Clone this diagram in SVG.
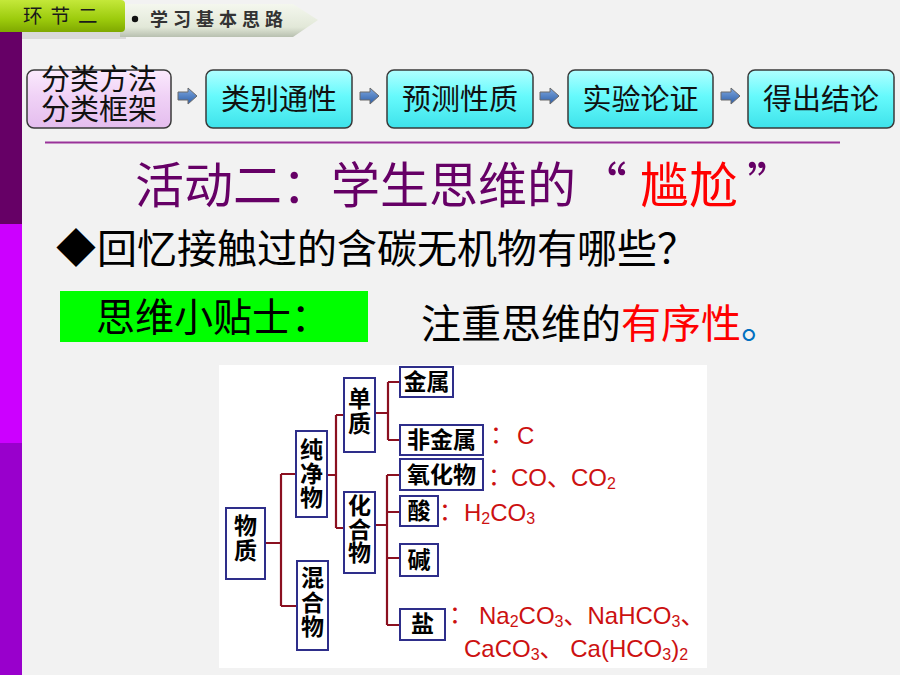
<svg xmlns="http://www.w3.org/2000/svg" width="900" height="675" viewBox="0 0 900 675">
<defs>
<linearGradient id="gCyan" x1="0" y1="0" x2="0" y2="1">
<stop offset="0" stop-color="#B0FFFF"/><stop offset="0.45" stop-color="#66FAFC"/><stop offset="1" stop-color="#3EE2EA"/>
</linearGradient>
<linearGradient id="gPink" x1="0" y1="0" x2="0" y2="1">
<stop offset="0" stop-color="#FBEAFD"/><stop offset="0.45" stop-color="#F0D2F6"/><stop offset="1" stop-color="#E4BDEE"/>
</linearGradient>
<linearGradient id="gTab" x1="0" y1="0" x2="0" y2="1">
<stop offset="0" stop-color="#C4E83A"/><stop offset="0.6" stop-color="#9CCB0C"/><stop offset="1" stop-color="#7FA800"/>
</linearGradient>
<linearGradient id="gBan" x1="0" y1="0" x2="0" y2="1">
<stop offset="0" stop-color="#F4F7EE"/><stop offset="0.7" stop-color="#E2E8D8"/><stop offset="1" stop-color="#B8C0B0"/>
</linearGradient>
<linearGradient id="gArr" x1="0" y1="0" x2="0" y2="1">
<stop offset="0" stop-color="#7FA8E0"/><stop offset="1" stop-color="#2E5FA8"/>
</linearGradient>
<g id="arrowShape"><polygon points="0,4 10,4 10,0 19,8 10,16 10,12 0,12" fill="url(#gArr)" stroke="#6A6A6A" stroke-width="1"/></g>
</defs>
<style>
.cjk{font-family:"Noto Sans CJK SC","Noto Sans CJK TC",sans-serif;}
.flow{font-family:"Noto Sans CJK SC",sans-serif;font-size:29px;fill:#111;text-anchor:middle;}
.fbox{stroke:#3A3A3A;stroke-width:1.5;}
.nb{fill:#FFFFFF;stroke:#2E2E8A;stroke-width:2;}
.nt{font-family:"Noto Sans CJK SC",sans-serif;font-weight:bold;font-size:23px;fill:#000;text-anchor:middle;}
.vt{font-family:"Noto Sans CJK SC",sans-serif;font-weight:bold;font-size:23px;fill:#000;writing-mode:vertical-rl;text-anchor:start;}
.conn{fill:none;stroke:#8B1020;stroke-width:2.2;}
.chem{font-family:"Liberation Sans","Noto Sans CJK SC",sans-serif;font-size:24px;fill:#CC1111;}
</style>
<rect width="900" height="675" fill="#F2F2F2"/>
<!-- sidebar -->
<rect x="0" y="32" width="22" height="192" fill="#660066"/>
<rect x="0" y="224" width="22" height="219" fill="#CC00FF"/>
<rect x="0" y="443" width="22" height="232" fill="#9900CC"/>
<!-- header -->
<g id="banner">
<rect x="22" y="32" width="104" height="7" fill="#C8C8C8" opacity="0.6"/>
<polygon points="120,4 293,4 318,20 293,37 120,37" fill="url(#gBan)"/>
<circle cx="135" cy="19" r="3.2" fill="#111"/>
<text class="cjk" x="150" y="26" font-size="18" letter-spacing="5" fill="#333" font-weight="bold">学习基本思路</text>
</g>
<g id="tab">
<rect x="-4" y="0" width="129" height="32" rx="4" fill="url(#gTab)"/>
<text class="cjk" x="23" y="23" font-size="19.5" letter-spacing="8" fill="#1A1A1A">环节二</text>
</g>
<!-- flow -->
<g id="flow1">
<rect class="fbox" x="27" y="70" width="144" height="58" rx="7" fill="url(#gPink)"/>
<text class="flow" x="99" y="90" font-size="27">分类方法</text>
<text class="flow" x="99" y="120" font-size="27">分类框架</text>
</g>
<g id="flow2"><rect class="fbox" x="206" y="70" width="146" height="58" rx="7" fill="url(#gCyan)"/><text class="flow" x="279" y="110">类别通性</text></g>
<g id="flow3"><rect class="fbox" x="387" y="70" width="146" height="58" rx="7" fill="url(#gCyan)"/><text class="flow" x="460" y="110">预测性质</text></g>
<g id="flow4"><rect class="fbox" x="568" y="70" width="145" height="58" rx="7" fill="url(#gCyan)"/><text class="flow" x="640.5" y="110">实验论证</text></g>
<g id="flow5"><rect class="fbox" x="748" y="70" width="146" height="58" rx="7" fill="url(#gCyan)"/><text class="flow" x="821" y="110">得出结论</text></g>
<g id="flowArrows">
<use href="#arrowShape" x="178" y="88"/>
<use href="#arrowShape" x="360" y="88"/>
<use href="#arrowShape" x="540" y="88"/>
<use href="#arrowShape" x="721" y="88"/>
</g>
<line x1="45" y1="142.5" x2="840" y2="142.5" stroke="#993399" stroke-width="2"/>
<!-- title -->
<text class="cjk" y="203" font-size="49" fill="#660066"><tspan x="135">活动二：学生思维的</tspan><tspan x="578">“</tspan><tspan x="640" fill="#FF0000">尴尬</tspan><tspan x="747">”</tspan></text>
<text class="cjk" y="263" font-size="40" fill="#000"><tspan x="56">◆</tspan><tspan x="97">回忆接触过的含碳无机物有哪些？</tspan></text>
<rect x="60" y="291" width="308" height="51" fill="#00FF00"/>
<text class="cjk" x="96" y="331" font-size="39" fill="#000">思维小贴士：</text>
<text class="cjk" x="421" y="338" font-size="40" fill="#000">注重思维的<tspan fill="#FF0000">有序性</tspan><tspan fill="#0070C0">。</tspan></text>
<!-- classification diagram -->
<rect x="219" y="365" width="488" height="303" fill="#FFFFFF"/>
<g id="connectors">
<path class="conn" d="M265,543 H281 M281,474 V606 M281,474 H296 M281,606 H297"/>
<path class="conn" d="M327,475 H336 M336,415 V528 M336,415 H344 M336,528 H344"/>
<path class="conn" d="M375,413 H388 M388,382 V440 M388,382 H400 M388,440 H400"/>
<path class="conn" d="M375,525 H387 M387,475 V625 M387,475 H400 M387,512 H400 M387,558 H400 M387,625 H400"/>
</g>
<g id="n-wuzhi"><rect class="nb" x="226" y="508" width="39" height="71"/><text class="vt" x="245.5" y="514" font-size="27" letter-spacing="2">物质</text></g>
<g id="n-chunjingwu"><rect class="nb" x="296" y="431" width="31" height="86"/><text class="vt" x="311.5" y="438" letter-spacing="1">纯净物</text></g>
<g id="n-hunhewu"><rect class="nb" x="297" y="561" width="31" height="89"/><text class="vt" x="312.5" y="566" letter-spacing="1.5">混合物</text></g>
<g id="n-danzhi"><rect class="nb" x="344" y="378" width="31" height="74"/><text class="vt" x="359.5" y="387" letter-spacing="2">单质</text></g>
<g id="n-huahewu"><rect class="nb" x="344" y="492" width="31" height="81"/><text class="vt" x="359.5" y="494" letter-spacing="0.5">化合物</text></g>
<g id="n-jinshu"><rect class="nb" x="400" y="367" width="53" height="30"/><text class="nt" x="426.5" y="390">金属</text></g>
<g id="n-feijinshu"><rect class="nb" x="400" y="425" width="83" height="30"/><text class="nt" x="441.5" y="448">非金属</text></g>
<g id="n-yanghuawu"><rect class="nb" x="400" y="459" width="83" height="31"/><text class="nt" x="441.5" y="483">氧化物</text></g>
<g id="n-suan"><rect class="nb" x="400" y="496" width="38" height="30"/><text class="nt" x="419" y="519">酸</text></g>
<g id="n-jian"><rect class="nb" x="400" y="544" width="38" height="32"/><text class="nt" x="419" y="568">碱</text></g>
<g id="n-yan"><rect class="nb" x="400" y="609" width="45" height="31"/><text class="nt" x="422.5" y="632">盐</text></g>
<g id="chem">
<text class="chem" x="490" y="443">：</text><text class="chem" x="517" y="444">C</text>
<text class="chem" x="488" y="485">：</text><text class="chem" x="511" y="486">CO、CO<tspan font-size="16" dy="3">2</tspan></text>
<text class="chem" x="439" y="520">：</text><text class="chem" x="464" y="521">H<tspan font-size="16" dy="3">2</tspan><tspan dy="-3">CO</tspan><tspan font-size="16" dy="3">3</tspan></text>
<text class="chem" x="449" y="623">：</text><text class="chem" x="479" y="624">Na<tspan font-size="16" dy="3">2</tspan><tspan dy="-3">CO</tspan><tspan font-size="16" dy="3">3</tspan><tspan dy="-3">、NaHCO</tspan><tspan font-size="16" dy="3">3</tspan><tspan dy="-3">、</tspan></text>
<text class="chem" x="464" y="657">CaCO<tspan font-size="16" dy="3">3</tspan><tspan dy="-3">、 Ca(HCO</tspan><tspan font-size="16" dy="3">3</tspan><tspan dy="-3">)</tspan><tspan font-size="16" dy="3">2</tspan></text>
</g>
</svg>
